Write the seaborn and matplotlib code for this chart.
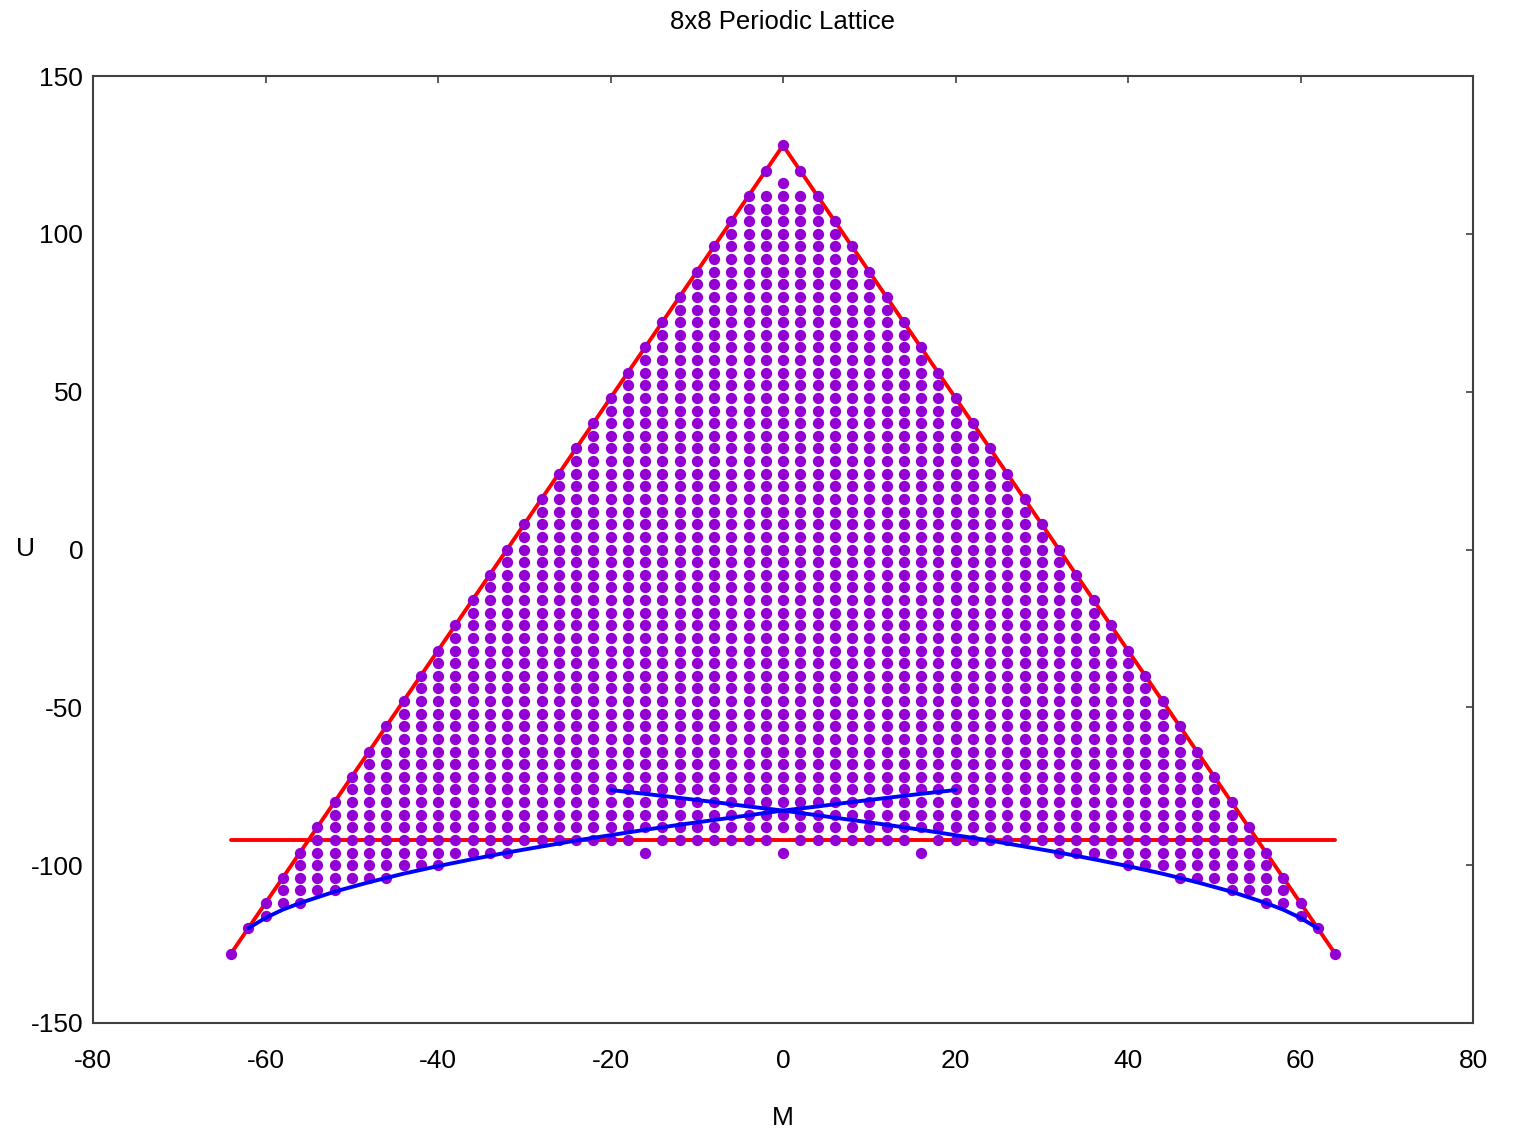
import matplotlib
matplotlib.use("Agg")
import matplotlib.pyplot as plt
import seaborn as sns
import pandas as pd

# ---------------- data ----------------
m_values = list(range(-64, 65, 2))

# highest accessible U for each M (top dot of each column)
u_top = [-128, -120, -112, -104, -96, -88, -80, -72, -64, -56, -48, -40, -32,
         -24, -16, -8, 0, 8, 16, 24, 32, 40, 48, 56, 64, 72, 80, 88, 96, 104,
         112, 120, 128,
         120, 112, 104, 96, 88, 80, 72, 64, 56, 48, 40, 32, 24, 16, 8, 0,
         -8, -16, -24, -32, -40, -48, -56, -64, -72, -80, -88, -96, -104,
         -112, -120, -128]

# lowest accessible U for each M (bottom dot of each column)
u_bottom = [-128, -120, -116, -112, -112, -108, -108, -104, -104, -104, -100,
            -100, -100, -96, -96, -96, -96, -92, -92, -92, -92, -92, -92, -92,
            -96, -92, -92, -92, -92, -92, -92, -92, -96,
            -92, -92, -92, -92, -92, -92, -92, -96, -92, -92, -92, -92, -92,
            -92, -92, -96, -96, -96, -96, -100, -100, -100, -104, -104, -104,
            -108, -108, -112, -112, -116, -120, -128]

u_step = 4

# empty places inside the columns
missing_m = [0, 0, -2, 2, 0, -16, 16]
missing_u = [124, 120, 116, 116, -92, -92, -92]

# red boundary lines
tri_m = [-64, 0, 64]
tri_u = [-128, 128, -128]
hline_m = [-64, 64]
hline_u = [-92, -92]

# blue curves
blue_left_m = [-62, -60, -58, -56, -52, -48, -44, -40, -36, -32, -28, -24,
               -20, -16, -12, -8, -4, 0, 4, 8, 12, 16, 20]
blue_left_u = [-120, -116.7, -114.1, -112, -108.4, -105.4, -102.7, -100.3,
               -98.1, -96, -94.1, -92.2, -90.5, -88.8, -87.2, -85.7, -84.2,
               -82.7, -81.4, -80, -78.7, -77.4, -76.2]
blue_right_m = [62, 60, 58, 56, 52, 48, 44, 40, 36, 32, 28, 24,
                20, 16, 12, 8, 4, 0, -4, -8, -12, -16, -20]
blue_right_u = [-120, -116.7, -114.1, -112, -108.4, -105.4, -102.7, -100.3,
                -98.1, -96, -94.1, -92.2, -90.5, -88.8, -87.2, -85.7, -84.2,
                -82.7, -81.4, -80, -78.7, -77.4, -76.2]

x_ticks = [-80, -60, -40, -20, 0, 20, 40, 60, 80]
y_ticks = [-150, -100, -50, 0, 50, 100, 150]

# ---------------- build point table ----------------
missing = set(zip(missing_m, missing_u))
pts_m, pts_u = [], []
for m, lo, hi in zip(m_values, u_bottom, u_top):
    for u in range(lo, hi + 1, u_step):
        if (m, u) not in missing:
            pts_m.append(m)
            pts_u.append(u)
points = pd.DataFrame({"M": pts_m, "U": pts_u})

# ---------------- plot ----------------
sns.set_style("white")
plt.rcParams["font.family"] = ["Liberation Sans", "DejaVu Sans"]
plt.rcParams["axes.unicode_minus"] = False
plt.rcParams["text.color"] = "black"
plt.rcParams["axes.labelcolor"] = "black"

fig = plt.figure(figsize=(15.21, 11.33), dpi=100)
ax = fig.add_axes([93 / 1521, 1 - 1023 / 1133, 1380 / 1521, 947 / 1133])

red = "#ff0000"
blue = "#0000ff"
purple = "#9400d3"

sns.lineplot(x=tri_m, y=tri_u, ax=ax, color=red, linewidth=2.8,
             sort=False, estimator=None, zorder=2)
sns.lineplot(x=hline_m, y=hline_u, ax=ax, color=red, linewidth=2.8,
             sort=False, estimator=None, zorder=2)
sns.scatterplot(data=points, x="M", y="U", ax=ax, color=purple, s=66,
                linewidth=0, zorder=3)
sns.lineplot(x=blue_left_m, y=blue_left_u, ax=ax, color=blue, linewidth=2.8,
             sort=False, estimator=None, zorder=4)
sns.lineplot(x=blue_right_m, y=blue_right_u, ax=ax, color=blue, linewidth=2.8,
             sort=False, estimator=None, zorder=4)

ax.set_xlim(-80, 80)
ax.set_ylim(-150, 150)
ax.set_xticks(x_ticks)
ax.set_yticks(y_ticks)
ax.tick_params(direction="in", top=True, right=True, length=5, width=1.2,
               color="#404040", labelsize=19, labelcolor="black")
ax.tick_params(axis="x", pad=19)
ax.tick_params(axis="y", pad=7)
for sp in ax.spines.values():
    sp.set_color("#404040")
    sp.set_linewidth(1.5)
    sp.set_visible(True)

ax.set_title("8x8 Periodic Lattice", fontsize=18.5, pad=33.5, color="black")
ax.set_xlabel("M", fontsize=19, va="center", color="black")
ax.xaxis.set_label_coords(0.5, (1023 - 1118) / 947)
ax.set_ylabel("U", fontsize=19, rotation=0, ha="center", va="center",
              color="black")
ax.yaxis.set_label_coords((25 - 93) / 1380, 0.5)

fig.savefig("out.png", dpi=100)
